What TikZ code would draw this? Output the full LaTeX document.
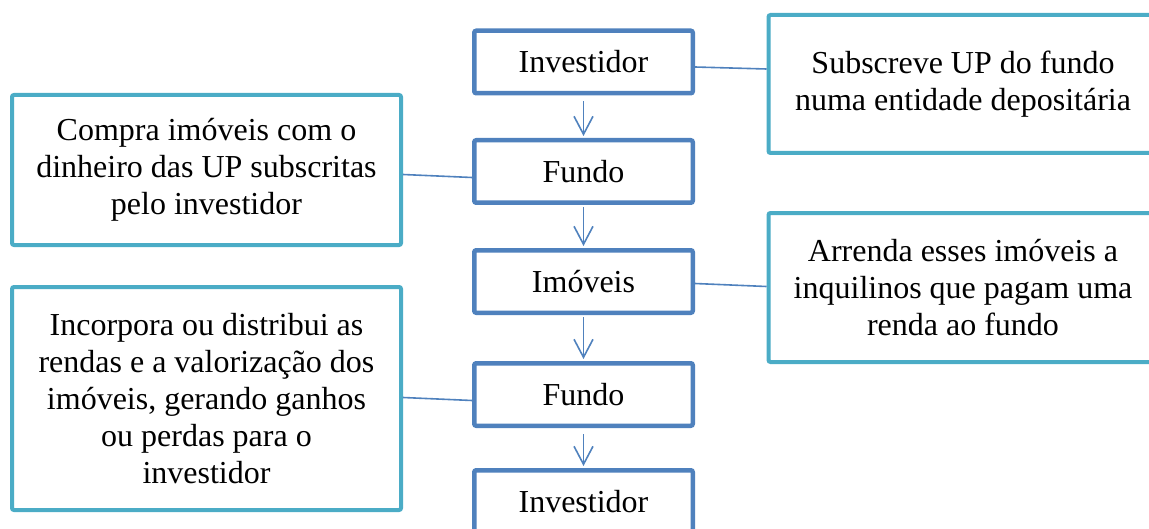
\documentclass[tikz,border=0pt]{standalone}
\usepackage{fontspec}
\setmainfont{Liberation Serif}
\usepackage{xcolor}
\definecolor{fluxBlue}{HTML}{4F81BD}
\definecolor{fluxTeal}{HTML}{4BACC6}
\usetikzlibrary{arrows.meta}

\begin{document}
\begin{tikzpicture}[x=0.5pt, y=-0.5pt, >={Straight Barb[length=9pt,width=9.5pt]},
  stepbox/.style={draw=fluxBlue, line width=2.25pt, rounded corners=1pt, fill=white,
    minimum width=109.25pt, minimum height=31.25pt, inner sep=0pt},
  notebox/.style={draw=fluxTeal, line width=2pt, rounded corners=1pt, fill=white,
    minimum width=194.5pt, align=center, inner sep=0pt},
  link/.style={fluxBlue, line width=0.8pt},
  every node/.style={font=\fontsize{16}{18.5}\selectfont}]
  \clip (0,0) rectangle (1149,529);
  % ---- middle column ----
  \node[stepbox] (inv1) at (583.5,62)  {Investidor};
  \node[stepbox] (fun1) at (583.5,171.5) {Fundo};
  \node[stepbox] (imo)  at (583.5,281.5) {Imóveis};
  \node[stepbox] (fun2) at (583.5,394.5) {Fundo};
  \node[stepbox] (inv2) at (583.5,501.5) {Investidor};
  % ---- notes on the left ----
  \node[notebox, minimum height=75pt] (compra) at (206.5,170)
    {Compra imóveis com o\\ dinheiro das UP subscritas\\ pelo investidor};
  \node[notebox, minimum height=111.5pt] (rendas) at (206.5,398.5)
    {Incorpora ou distribui as\\ rendas e a valorização dos\\ imóveis, gerando ganhos\\ ou perdas para o\\ investidor};
  % ---- notes on the right ----
  \node[notebox, minimum height=69pt] (subs) at (963,84)
    {Subscreve UP do fundo\\ numa entidade depositária};
  \node[notebox, minimum height=74.5pt] (arrenda) at (963,287.5)
    {Arrenda esses imóveis a\\ inquilinos que pagam uma\\ renda ao fundo};
  % ---- arrows down the column ----
  \draw[link, ->, shorten <=3pt, shorten >=1pt] (inv1) -- (fun1);
  \draw[link, ->, shorten <=1pt, shorten >=1pt] (fun1) -- (imo);
  \draw[link, ->, shorten <=1pt, shorten >=1pt] (imo) -- (fun2);
  \draw[link, ->, shorten <=3pt, shorten >=1pt] (fun2) -- (inv2);
  % ---- links to the notes (a little below the middle) ----
  \draw[link] ([yshift=-2.5pt]inv1.east) -- ([yshift=-3.5pt]inv1.east -| subs.west);
  \draw[link] ([yshift=-3pt]fun1.west) -- ([yshift=-1.5pt]fun1.west -| compra.east);
  \draw[link] ([yshift=-1pt]imo.east) -- ([yshift=-2.5pt]imo.east -| arrenda.west);
  \draw[link] ([yshift=-3pt]fun2.west) -- ([yshift=-1.5pt]fun2.west -| rendas.east);
\end{tikzpicture}
\end{document}
